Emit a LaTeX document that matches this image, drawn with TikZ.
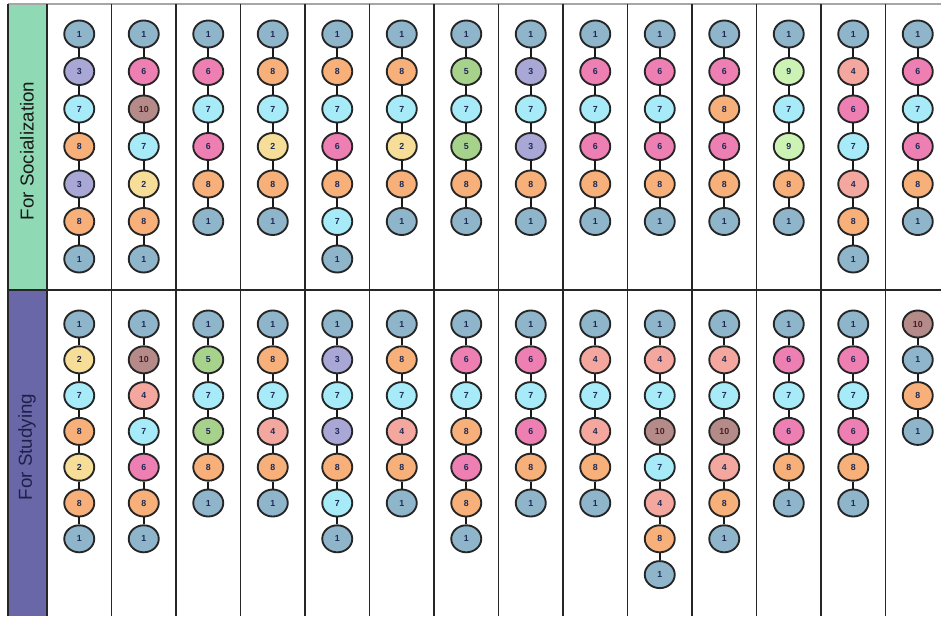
\documentclass[tikz,border=0pt]{standalone}
\usepackage{fontspec}
\setmainfont{Liberation Sans}
\usetikzlibrary{shapes.geometric}

% fill of each bead value
\definecolor{c1}{HTML}{8FB5CB}
\definecolor{c2}{HTML}{F7DE98}
\definecolor{c3}{HTML}{A9A7D6}
\definecolor{c4}{HTML}{F3A79F}
\definecolor{c5}{HTML}{A7D28B}
\definecolor{c6}{HTML}{EE7FB3}
\definecolor{c7}{HTML}{A6EBF7}
\definecolor{c8}{HTML}{F7B07A}
\definecolor{c9}{HTML}{CDF3B4}
\definecolor{c10}{HTML}{B48B89}
% digit colour of each bead value
\definecolor{navytxt}{HTML}{1E2A55}
\definecolor{maroontxt}{HTML}{4A1F22}
\colorlet{t1}{navytxt}
\colorlet{t2}{navytxt}
\colorlet{t3}{navytxt}
\colorlet{t4}{navytxt}
\colorlet{t5}{navytxt}
\colorlet{t6}{navytxt}
\colorlet{t7}{navytxt}
\colorlet{t8}{navytxt}
\colorlet{t9}{navytxt}
\colorlet{t10}{maroontxt}

\definecolor{socgreen}{HTML}{8FD9B5}
\definecolor{studpurple}{HTML}{6A67A9}
\definecolor{studtxt}{HTML}{1F2048}

\tikzset{
  bead/.style={ellipse, draw=black!85, line width=1.6pt, fill=c#1, text=t#1,
    minimum width=9mm, minimum height=8.1mm, inner sep=0pt,
    font=\fontsize{7.5}{8}\selectfont\bfseries},
  link/.style={line width=1.4pt, black!90},
  divider/.style={line width=1.2pt, black!85},
  bandlabel/.style={rotate=90, font=\fontsize{16}{18}\selectfont}
}

\begin{document}
\begin{tikzpicture}[x=0.3mm, y=-0.3mm]
    \useasboundingbox (0,0) rectangle (941,616);

    % bandas de la izquierda
    \fill[socgreen] (8,4) rectangle (47,290);
    \fill[studpurple] (8,290) rectangle (47,616);
    \node[bandlabel, text=black!90] (soclabel) at (27,151) {For Socialization};
    \node[bandlabel, text=studtxt] (studlabel) at (27,447) {For Studying};

    % marco
    \draw[gray!70, line width=1pt] (8,4) -- (941,4);
    \draw[divider] (8,290) -- (941,290);
    \foreach \x in {8,47,111.5,176,240.5,305,369.5,434,498.5,563,627.5,692,756.5,821,885.5}{
      \draw[divider] (\x,4) -- (\x,616);
    }

    % cadenas para socializar
    \foreach \vals [count=\c] in {
        {1,3,7,8,3,8,1},
        {1,6,10,7,2,8,1},
        {1,6,7,6,8,1},
        {1,8,7,2,8,1},
        {1,8,7,6,8,7,1},
        {1,8,7,2,8,1},
        {1,5,7,5,8,1},
        {1,3,7,3,8,1},
        {1,6,7,6,8,1},
        {1,6,7,6,8,1},
        {1,6,8,6,8,1},
        {1,9,7,9,8,1},
        {1,4,6,7,4,8,1},
        {1,6,7,6,8,1}}{
      \foreach \v [count=\i] in \vals {
        \node[bead=\v] (s\c-\i) at ({47+64.5*(\c-0.5)},{34+37.5*(\i-1)}) {\v};
        \ifnum\i>1
          \pgfmathtruncatemacro\p{\i-1}
          \draw[link] (s\c-\p) -- (s\c-\i);
        \fi
      }
    }

    % cadenas para estudiar
    \foreach \vals [count=\c] in {
        {1,2,7,8,2,8,1},
        {1,10,4,7,6,8,1},
        {1,5,7,5,8,1},
        {1,8,7,4,8,1},
        {1,3,7,3,8,7,1},
        {1,8,7,4,8,1},
        {1,6,7,8,6,8,1},
        {1,6,7,6,8,1},
        {1,4,7,4,8,1},
        {1,4,7,10,7,4,8,1},
        {1,4,7,10,4,8,1},
        {1,6,7,6,8,1},
        {1,6,7,6,8,1},
        {10,1,8,1}}{
      \foreach \v [count=\i] in \vals {
        \node[bead=\v] (t\c-\i) at ({47+64.5*(\c-0.5)},{324+35.8*(\i-1)}) {\v};
        \ifnum\i>1
          \pgfmathtruncatemacro\p{\i-1}
          \draw[link] (t\c-\p) -- (t\c-\i);
        \fi
      }
    }
  \end{tikzpicture}
\end{document}
